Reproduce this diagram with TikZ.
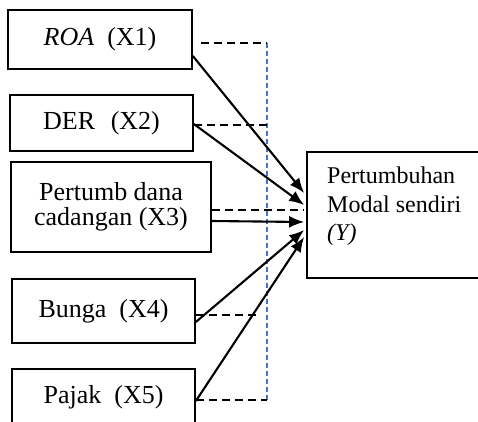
\documentclass[tikz,border=0pt]{standalone}
\usepackage{fontspec}
\setmainfont{Liberation Serif}
\usetikzlibrary{arrows.meta}
\definecolor{dashblue}{RGB}{68,114,196}
\begin{document}
\begin{tikzpicture}[x=1pt,y=-1pt,
  font=\fontsize{26}{25}\selectfont,
  box/.style={draw, line width=1.7pt, inner sep=0pt, align=center},
  arr/.style={-{Latex[length=15pt,width=12pt]}, line width=2.1pt},
  dsh/.style={line width=2.2pt, dash pattern=on 8pt off 5pt},
  bdsh/.style={draw=dashblue, line width=1.4pt, dash pattern=on 5pt off 3pt}]
\useasboundingbox (0,0) rectangle (478,421);
\clip (0,0) rectangle (478,421);
% boxes
\node[box, minimum width=184pt, minimum height=59pt] (X1) at (100,39.5) {\textit{ROA}\hspace{0.5em}(X1)};
\node[box, minimum width=183pt, minimum height=56pt] (X2) at (101.5,123) {DER\hspace{0.6em}(X2)};
\node[box, minimum width=200pt, minimum height=90pt] (X3) at (111,207) {Pertumb dana\\cadangan (X3)};
\node[box, minimum width=183pt, minimum height=64pt] (X4) at (103.5,311) {Bunga\hspace{0.5em}(X4)};
\node[box, minimum width=183pt, minimum height=56pt] (X5) at (103.5,397) {Pajak\hspace{0.5em}(X5)};
\node[box, minimum width=180pt, minimum height=126pt] (Y) at (397,215) {};
\node[inner sep=0pt, align=left, anchor=north west, font=\fontsize{24}{28.5}\selectfont] (Yt) at (327,167) {Pertumbuhan\\Modal sendiri\\\textit{(Y)}};
% blue dashed guide
\coordinate (b1) at (267,43);
\coordinate (b2) at (267,125);
\coordinate (b4) at (258,315);
\coordinate (b5) at (267,400);
\draw[bdsh] (b1) -- (b5);
% black dashed lines
\draw[dsh] ([xshift=8pt,yshift=-3.5pt]X1.east) -- (b1);
\draw[dsh] ([yshift=-2pt]X2.east) -- (b2);
\draw[dsh] ([yshift=-3pt]X3.east) -- ([yshift=5pt,xshift=-2pt]Y.west);
\draw[dsh] ([yshift=-4pt]X4.east) -- (b4);
\draw[dsh] ([yshift=-3pt]X5.east) -- (b5);
% arrows
\draw[arr] ([yshift=-16.5pt]X1.east) -- ([yshift=22pt,xshift=-2pt]Y.west);
\draw[arr] ([yshift=-1pt]X2.east) -- ([yshift=10pt,xshift=-2pt]Y.west);
\draw[arr] ([yshift=-14pt]X3.east) -- ([yshift=-7pt,xshift=-2pt]Y.west);
\draw[arr] ([yshift=-11pt]X4.east) -- ([yshift=-15pt,xshift=-2pt]Y.west);
\draw[arr] ([yshift=-4pt]X5.east) -- ([yshift=-22pt,xshift=-2pt]Y.west);
\end{tikzpicture}
\end{document}
